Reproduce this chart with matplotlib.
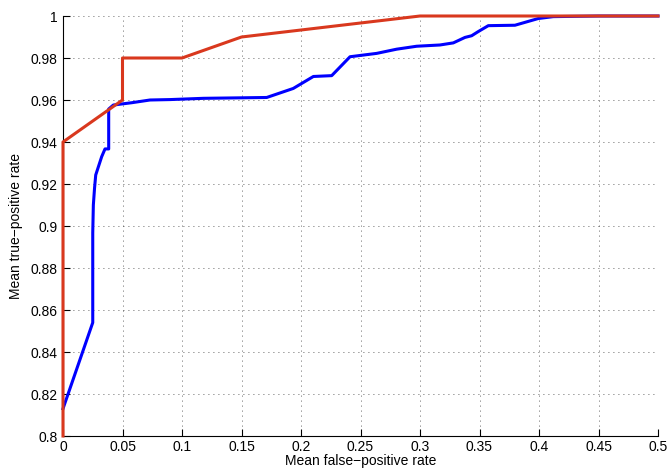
import matplotlib
matplotlib.use('Agg')
import matplotlib.pyplot as plt

plt.rcParams['font.family'] = ['Liberation Sans', 'DejaVu Sans']
plt.rcParams['axes.unicode_minus'] = True

# blue ROC curve (mean false-positive rate, mean true-positive rate)
blue_fpr = [0.0, 0.025, 0.025, 0.0255, 0.0265, 0.0275, 0.0325, 0.0353, 0.0384,
            0.0384, 0.0423, 0.0577, 0.0731, 0.0899, 0.118, 0.1712, 0.1935,
            0.2104, 0.2258, 0.2412, 0.2636, 0.2804, 0.2972, 0.3168, 0.328,
            0.3378, 0.3434, 0.349, 0.3574, 0.3798, 0.3994, 0.412, 0.45, 0.5]
blue_tpr = [0.813, 0.854, 0.8967, 0.91, 0.918, 0.9243, 0.933, 0.9367, 0.9367,
            0.9557, 0.9576, 0.9587, 0.9600, 0.9602, 0.9608, 0.9612, 0.9655,
            0.9712, 0.9716, 0.9806, 0.9822, 0.9842, 0.9856, 0.9862, 0.9872,
            0.9898, 0.9906, 0.9926, 0.9954, 0.9956, 0.9988, 0.9997, 1.0, 1.0]

# red ROC curve
red_fpr = [0.0, 0.0, 0.05, 0.05, 0.1, 0.15, 0.3, 0.5]
red_tpr = [0.8, 0.94, 0.96, 0.98, 0.98, 0.99, 1.0, 1.0]

xticks = [0, 0.05, 0.1, 0.15, 0.2, 0.25, 0.3, 0.35, 0.4, 0.45, 0.5]
xlabels = ['0', '0.05', '0.1', '0.15', '0.2', '0.25', '0.3', '0.35', '0.4', '0.45', '0.5']
yticks = [0.8, 0.82, 0.84, 0.86, 0.88, 0.9, 0.92, 0.94, 0.96, 0.98, 1.0]
ylabels = ['0.8', '0.82', '0.84', '0.86', '0.88', '0.9', '0.92', '0.94', '0.96', '0.98', '1']

fig = plt.figure(figsize=(6.68, 4.73), dpi=100)
ax = fig.add_axes([63 / 668, 37 / 473, 595 / 668, 420 / 473])

ax.plot(blue_fpr, blue_tpr, color='#0000ff', lw=2.2, solid_joinstyle='round', clip_on=False, zorder=3)
ax.plot(red_fpr, red_tpr, color='#d9381e', lw=2.2, solid_joinstyle='round', clip_on=False, zorder=4)

ax.set_xlim(0, 0.5)
ax.set_ylim(0.8, 1.0)
ax.set_xticks(xticks)
ax.set_xticklabels(xlabels)
ax.set_yticks(yticks)
ax.set_yticklabels(ylabels)
ax.tick_params(direction='in', length=5, width=0.8, labelsize=10, colors='black')
ax.tick_params(axis='x', pad=3)
ax.tick_params(axis='y', pad=4)
ax.grid(True, color='black', linestyle=(0, (1, 5)), lw=0.6, alpha=0.8)

ax.spines['top'].set_visible(False)
ax.spines['right'].set_visible(False)
ax.spines['left'].set_linewidth(0.8)
ax.spines['bottom'].set_linewidth(0.8)

ax.set_xlabel('Mean false\u2212positive rate', fontsize=10, labelpad=0)
ax.set_ylabel('Mean true\u2212positive rate', fontsize=10, labelpad=5)

fig.savefig('out.png', dpi=100)
